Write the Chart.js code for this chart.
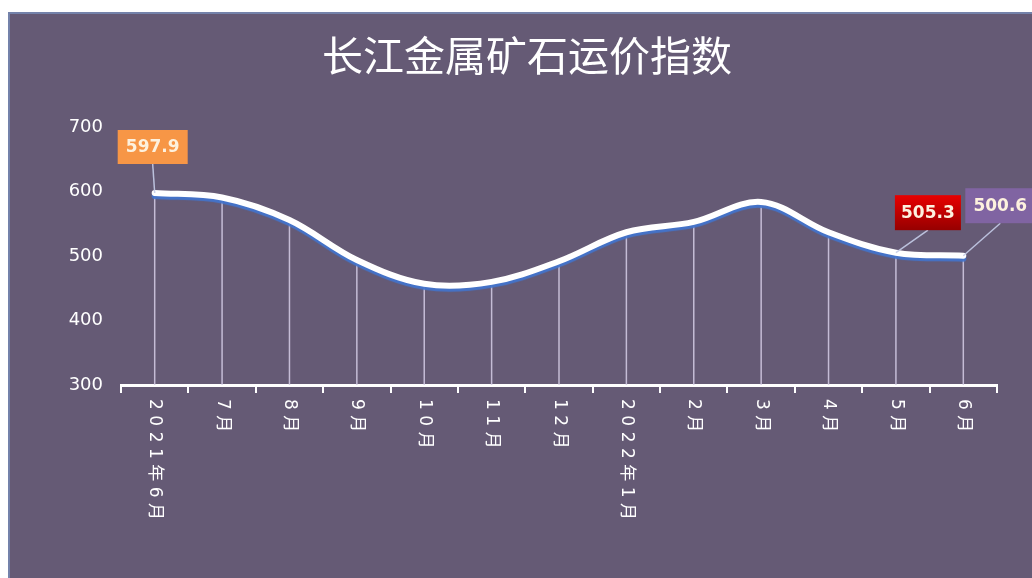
<!DOCTYPE html>
<html>
<head>
<meta charset="utf-8">
<script src="https://cdn.jsdelivr.net/npm/chart.js@4.4.0/dist/chart.umd.min.js"></script>
<style>
  html, body { margin: 0; padding: 0; background: #fff; }
  #panel {
    position: absolute; left: 8px; top: 12px; width: 1024px; height: 566px;
    background: #655a75; box-shadow: inset 2px 2px 0 #7482aa;
  }
  canvas { display: block; }
</style>
</head>
<body>
<div id="panel"><canvas id="c" width="1024" height="566"></canvas></div>
<script>
const categories = ['2021年6月', '7月', '8月', '9月', '10月', '11月', '12月', '2022年1月', '2月', '3月', '4月', '5月', '6月'];
const indexValues = [597.9, 591, 556, 494, 457, 460, 492, 537, 553, 584, 537, 505.3, 500.6];
const yTicks = [300, 400, 500, 600, 700];
const calloutPoints = [0, 11, 12];

// look of each callout box (same order as calloutPoints)
const calloutStyles = [
  { fill: '#f79646', dx: -2, dy: -46, w: 70, h: 34, weight: 'bold' },
  { fill: ['#e80000', '#960000'], dx: 32, dy: -40, w: 66, h: 35, weight: 'bold' },
  { fill: '#8064a2', dx: 37, dy: -50, w: 70, h: 35, weight: '600' }
];

const dropLines = {
  id: 'dropLines',
  beforeDatasetsDraw(chart) {
    const ctx = chart.ctx;
    const bottom = chart.chartArea.bottom;
    ctx.save();
    ctx.strokeStyle = 'rgba(214,206,232,0.85)';
    ctx.lineWidth = 1.5;
    chart.getDatasetMeta(0).data.forEach(p => {
      ctx.beginPath();
      ctx.moveTo(p.x, p.y);
      ctx.lineTo(p.x, bottom);
      ctx.stroke();
    });
    ctx.restore();
  }
};

// blue glow under the white curve
const lineShadow = {
  id: 'lineShadow',
  beforeDatasetDraw(chart) {
    const ctx = chart.ctx;
    ctx.save();
    ctx.shadowColor = 'rgba(66,116,204,0.95)';
    ctx.shadowOffsetY = 3;
    ctx.shadowBlur = 1;
  },
  afterDatasetDraw(chart) {
    chart.ctx.restore();
  }
};

const xLabels = {
  id: 'xLabels',
  afterDraw(chart) {
    const ctx = chart.ctx;
    const x = chart.scales.x;
    const top = chart.chartArea.bottom + 14;
    ctx.save();
    ctx.fillStyle = '#ffffff';
    ctx.font = '17px "DejaVu Sans", "Noto Sans CJK SC"';
    ctx.textBaseline = 'middle';
    ctx.textAlign = 'left';
    categories.forEach((label, i) => {
      ctx.save();
      ctx.translate(x.getPixelForValue(i), top);
      ctx.rotate(Math.PI / 2);
      let pos = 0;
      for (const ch of label) {
        ctx.fillText(ch, pos, 0);
        pos += ctx.measureText(ch).width + 5.5;
      }
      ctx.restore();
    });
    ctx.restore();
  }
};

const callouts = {
  id: 'callouts',
  afterDatasetsDraw(chart) {
    const ctx = chart.ctx;
    const meta = chart.getDatasetMeta(0);
    calloutPoints.forEach((idx, k) => {
      const s = calloutStyles[k];
      const p = meta.data[idx];
      const cx = p.x + s.dx, cy = p.y + s.dy;
      ctx.save();
      ctx.strokeStyle = 'rgba(196,204,232,0.9)';
      ctx.lineWidth = 1.5;
      ctx.beginPath();
      ctx.moveTo(cx, cy + s.h / 2);
      ctx.lineTo(p.x, p.y);
      ctx.stroke();
      if (Array.isArray(s.fill)) {
        const g = ctx.createLinearGradient(0, cy - s.h / 2, 0, cy + s.h / 2);
        g.addColorStop(0, s.fill[0]);
        g.addColorStop(1, s.fill[1]);
        ctx.fillStyle = g;
      } else {
        ctx.fillStyle = s.fill;
      }
      ctx.fillRect(cx - s.w / 2, cy - s.h / 2, s.w, s.h);
      ctx.fillStyle = '#fdf1de';
      ctx.font = s.weight + ' 17px "DejaVu Sans"';
      ctx.textAlign = 'center';
      ctx.textBaseline = 'middle';
      ctx.fillText(indexValues[idx].toFixed(1), cx, cy + 1);
      ctx.restore();
    });
  }
};

new Chart(document.getElementById('c'), {
  type: 'line',
  data: {
    labels: categories,
    datasets: [{
      data: indexValues,
      borderColor: '#ffffff',
      borderWidth: 6,
      borderCapStyle: 'round',
      tension: 0.35,
      pointRadius: 0,
      fill: false
    }]
  },
  options: {
    responsive: false,
    animation: false,
    layout: { padding: { left: 49, right: 35, top: 0, bottom: 0 } },
    plugins: {
      legend: { display: false },
      tooltip: { enabled: false },
      title: {
        display: true,
        text: '长江金属矿石运价指数',
        color: '#ffffff',
        font: { family: '"Noto Sans CJK SC"', size: 41, weight: 'normal', lineHeight: 1.2 },
        padding: { top: 19, bottom: 47 }
      }
    },
    scales: {
      x: {
        offset: true,
        ticks: { display: false },
        grid: {
          offset: true, drawOnChartArea: false, drawTicks: true,
          tickLength: 8, color: '#ffffff', lineWidth: 2
        },
        border: { display: true, color: '#ffffff', width: 3 },
        afterFit(scale) { scale.height = 193; }
      },
      y: {
        min: 300,
        max: 700,
        afterBuildTicks(scale) { scale.ticks = yTicks.map(v => ({ value: v })); },
        ticks: { color: '#ffffff', padding: 18, font: { family: '"DejaVu Sans"', size: 18 } },
        grid: { display: false, drawTicks: false },
        border: { display: false },
        afterFit(scale) { scale.width = 64; }
      }
    }
  },
  plugins: [dropLines, lineShadow, callouts, xLabels]
});
</script>
</body>
</html>
